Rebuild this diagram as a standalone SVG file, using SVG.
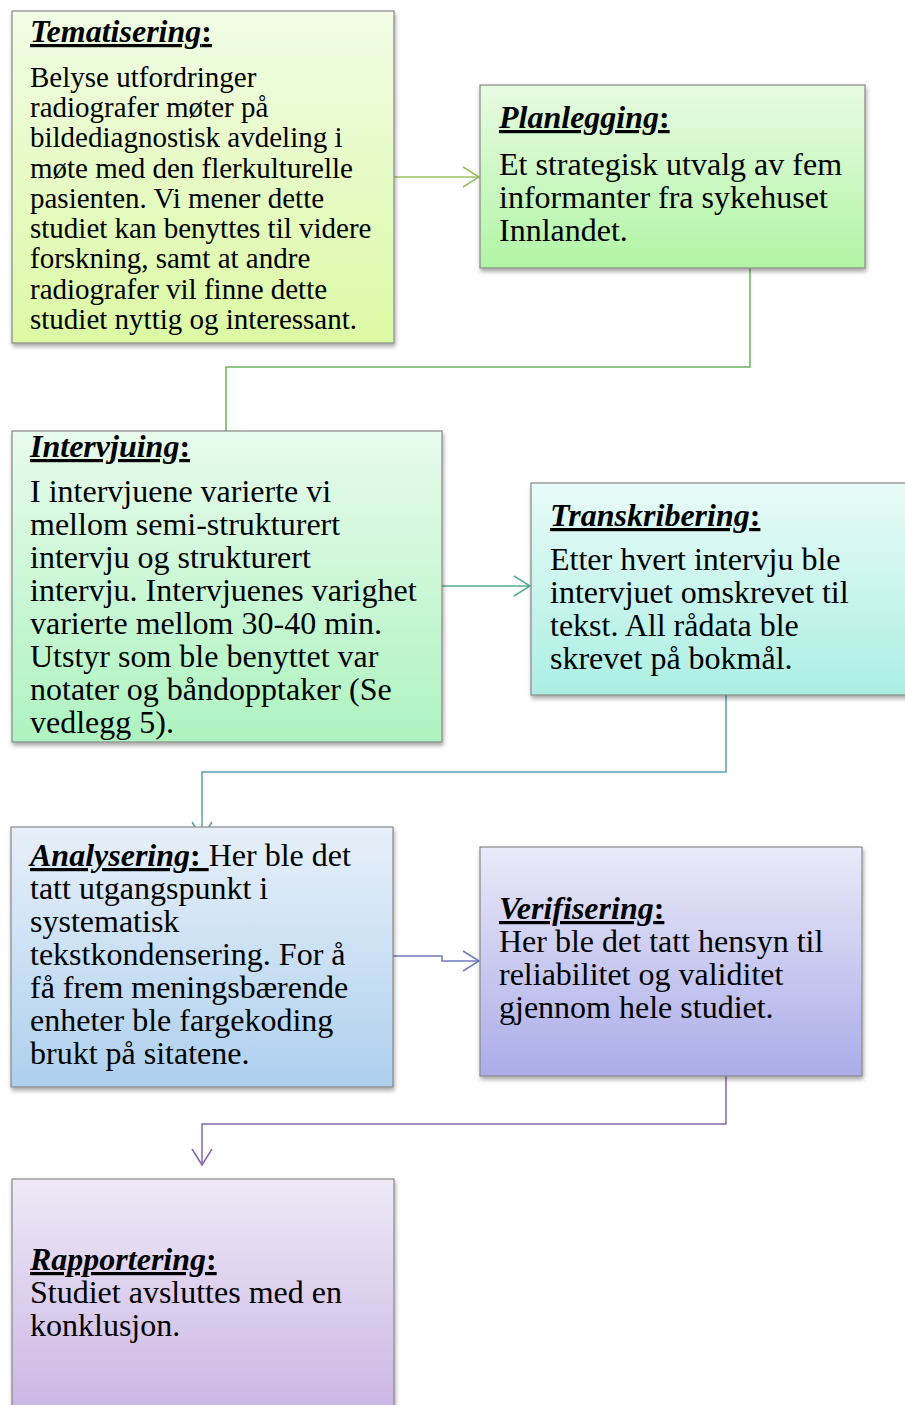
<svg xmlns="http://www.w3.org/2000/svg" width="905" height="1405" viewBox="0 0 905 1405">
<style>
text{font-family:"Liberation Serif","Times New Roman",serif;fill:#000}
.b29{font-size:29px}
.b32{font-size:32px}
.t{font-size:32px;font-weight:bold;font-style:italic;text-decoration:underline}
.c{font-style:normal}
.box{stroke:#888888;stroke-width:1.2}
.con{fill:none;stroke-width:1.5}
</style>
<defs>
<filter id="sh" x="-5%" y="-5%" width="112%" height="115%">
<feDropShadow dx="1" dy="3" stdDeviation="2" flood-color="#000" flood-opacity="0.35"/>
</filter>
<linearGradient id="g1" x1="0" y1="0" x2="0" y2="1"><stop offset="0" stop-color="#f1fde6"/><stop offset="1" stop-color="#dcf9a4"/></linearGradient>
<linearGradient id="g2" x1="0" y1="0" x2="0" y2="1"><stop offset="0" stop-color="#e8fbe2"/><stop offset="1" stop-color="#b2f5a6"/></linearGradient>
<linearGradient id="g3" x1="0" y1="0" x2="0" y2="1"><stop offset="0" stop-color="#e8fbec"/><stop offset="1" stop-color="#aef3c0"/></linearGradient>
<linearGradient id="g4" x1="0" y1="0" x2="0" y2="1"><stop offset="0" stop-color="#e8fbf8"/><stop offset="1" stop-color="#acefe3"/></linearGradient>
<linearGradient id="g5" x1="0" y1="0" x2="0" y2="1"><stop offset="0" stop-color="#e7f0fa"/><stop offset="1" stop-color="#aed0ee"/></linearGradient>
<linearGradient id="g6" x1="0" y1="0" x2="0" y2="1"><stop offset="0" stop-color="#eaeaf9"/><stop offset="1" stop-color="#abace8"/></linearGradient>
<linearGradient id="g7" x1="0" y1="0" x2="0" y2="1"><stop offset="0" stop-color="#efe9f7"/><stop offset="1" stop-color="#c5b0e2"/></linearGradient>
<marker id="m1" markerUnits="userSpaceOnUse" markerWidth="20" markerHeight="24" viewBox="-18 -12 20 24" refX="0" refY="0" orient="auto"><path d="M-16,-10 L0,0 L-16,10" fill="none" stroke="#9cc163" stroke-width="1.5"/></marker>
<marker id="m2" markerUnits="userSpaceOnUse" markerWidth="20" markerHeight="24" viewBox="-18 -12 20 24" refX="0" refY="0" orient="auto"><path d="M-16,-10 L0,0 L-16,10" fill="none" stroke="#6bb25c" stroke-width="1.5"/></marker>
<marker id="m3" markerUnits="userSpaceOnUse" markerWidth="20" markerHeight="24" viewBox="-18 -12 20 24" refX="0" refY="0" orient="auto"><path d="M-16,-10 L0,0 L-16,10" fill="none" stroke="#58ae8e" stroke-width="1.5"/></marker>
<marker id="m4" markerUnits="userSpaceOnUse" markerWidth="20" markerHeight="24" viewBox="-18 -12 20 24" refX="0" refY="0" orient="auto"><path d="M-16,-10 L0,0 L-16,10" fill="none" stroke="#5a9fb4" stroke-width="1.5"/></marker>
<marker id="m5" markerUnits="userSpaceOnUse" markerWidth="20" markerHeight="24" viewBox="-18 -12 20 24" refX="0" refY="0" orient="auto"><path d="M-16,-10 L0,0 L-16,10" fill="none" stroke="#6f7cc0" stroke-width="1.5"/></marker>
<marker id="m6" markerUnits="userSpaceOnUse" markerWidth="20" markerHeight="24" viewBox="-18 -12 20 24" refX="0" refY="0" orient="auto"><path d="M-16,-10 L0,0 L-16,10" fill="none" stroke="#8866aa" stroke-width="1.5"/></marker>
</defs>

<g id="connectors">
<path class="con" stroke="#9cc163" d="M394,177 H479" marker-end="url(#m1)"/>
<path class="con" stroke="#6bb25c" d="M750,268 V367 H226 V447" marker-end="url(#m2)"/>
<path class="con" stroke="#58ae8e" d="M442,586 H530" marker-end="url(#m3)"/>
<path class="con" stroke="#5a9fb4" d="M726,695 V772 H202 V838" marker-end="url(#m4)"/>
<path class="con" stroke="#6f7cc0" d="M393,956 H442 V961 H479" marker-end="url(#m5)"/>
<path class="con" stroke="#8866aa" d="M726,1076 V1124 H202 V1165" marker-end="url(#m6)"/>
</g>

<g id="tematisering">
<rect class="box" x="12" y="11" width="382" height="332" fill="url(#g1)" filter="url(#sh)"/>
<text x="30" y="42" class="t">Tematisering<tspan class="c">:</tspan></text>
<text class="b29" x="30">
<tspan x="30" y="87">Belyse utfordringer</tspan>
<tspan x="30" y="117">radiografer møter på</tspan>
<tspan x="30" y="147">bildediagnostisk avdeling i</tspan>
<tspan x="30" y="178">møte med den flerkulturelle</tspan>
<tspan x="30" y="208">pasienten. Vi mener dette</tspan>
<tspan x="30" y="238">studiet kan benyttes til videre</tspan>
<tspan x="30" y="268">forskning, samt at andre</tspan>
<tspan x="30" y="299">radiografer vil finne dette</tspan>
<tspan x="30" y="329">studiet nyttig og interessant.</tspan>
</text>
</g>

<g id="planlegging">
<rect class="box" x="480" y="85" width="385" height="183" fill="url(#g2)" filter="url(#sh)"/>
<text x="499" y="128" class="t">Planlegging<tspan class="c">:</tspan></text>
<text class="b32">
<tspan x="499" y="175">Et strategisk utvalg av fem</tspan>
<tspan x="499" y="208">informanter fra sykehuset</tspan>
<tspan x="499" y="241">Innlandet.</tspan>
</text>
</g>

<g id="intervjuing">
<rect class="box" x="12" y="431" width="430" height="311" fill="url(#g3)" filter="url(#sh)"/>
<text x="30" y="457" class="t">Intervjuing<tspan class="c">:</tspan></text>
<text class="b32">
<tspan x="30" y="502">I intervjuene varierte vi</tspan>
<tspan x="30" y="535">mellom semi-strukturert</tspan>
<tspan x="30" y="568">intervju og strukturert</tspan>
<tspan x="30" y="601">intervju. Intervjuenes varighet</tspan>
<tspan x="30" y="634">varierte mellom 30-40 min.</tspan>
<tspan x="30" y="667">Utstyr som ble benyttet var</tspan>
<tspan x="30" y="700">notater og båndopptaker (Se</tspan>
<tspan x="30" y="733">vedlegg 5).</tspan>
</text>
</g>

<g id="transkribering">
<rect class="box" x="531" y="483" width="390" height="212" fill="url(#g4)" filter="url(#sh)"/>
<text x="550" y="526" class="t">Transkribering<tspan class="c">:</tspan></text>
<text class="b32">
<tspan x="550" y="570">Etter hvert intervju ble</tspan>
<tspan x="550" y="603">intervjuet omskrevet til</tspan>
<tspan x="550" y="636">tekst. All rådata ble</tspan>
<tspan x="550" y="669">skrevet på bokmål.</tspan>
</text>
</g>

<g id="analysering">
<rect class="box" x="11" y="827" width="382" height="260" fill="url(#g5)" filter="url(#sh)"/>
<text class="b32">
<tspan x="30" y="866"><tspan class="t">Analysering<tspan class="c">: </tspan></tspan>Her ble det</tspan>
<tspan x="30" y="899">tatt utgangspunkt i</tspan>
<tspan x="30" y="932">systematisk</tspan>
<tspan x="30" y="965">tekstkondensering. For å</tspan>
<tspan x="30" y="998">få frem meningsbærende</tspan>
<tspan x="30" y="1031">enheter ble fargekoding</tspan>
<tspan x="30" y="1064">brukt på sitatene.</tspan>
</text>
</g>

<g id="verifisering">
<rect class="box" x="480" y="847" width="382" height="229" fill="url(#g6)" filter="url(#sh)"/>
<text x="499" y="919" class="t">Verifisering<tspan class="c">:</tspan></text>
<text class="b32">
<tspan x="499" y="952">Her ble det tatt hensyn til</tspan>
<tspan x="499" y="985">reliabilitet og validitet</tspan>
<tspan x="499" y="1018">gjennom hele studiet.</tspan>
</text>
</g>

<g id="rapportering">
<rect class="box" x="12" y="1179" width="382" height="260" fill="url(#g7)" filter="url(#sh)"/>
<text x="30" y="1270" class="t">Rapportering<tspan class="c">:</tspan></text>
<text class="b32">
<tspan x="30" y="1303">Studiet avsluttes med en</tspan>
<tspan x="30" y="1336">konklusjon.</tspan>
</text>
</g>
</svg>
